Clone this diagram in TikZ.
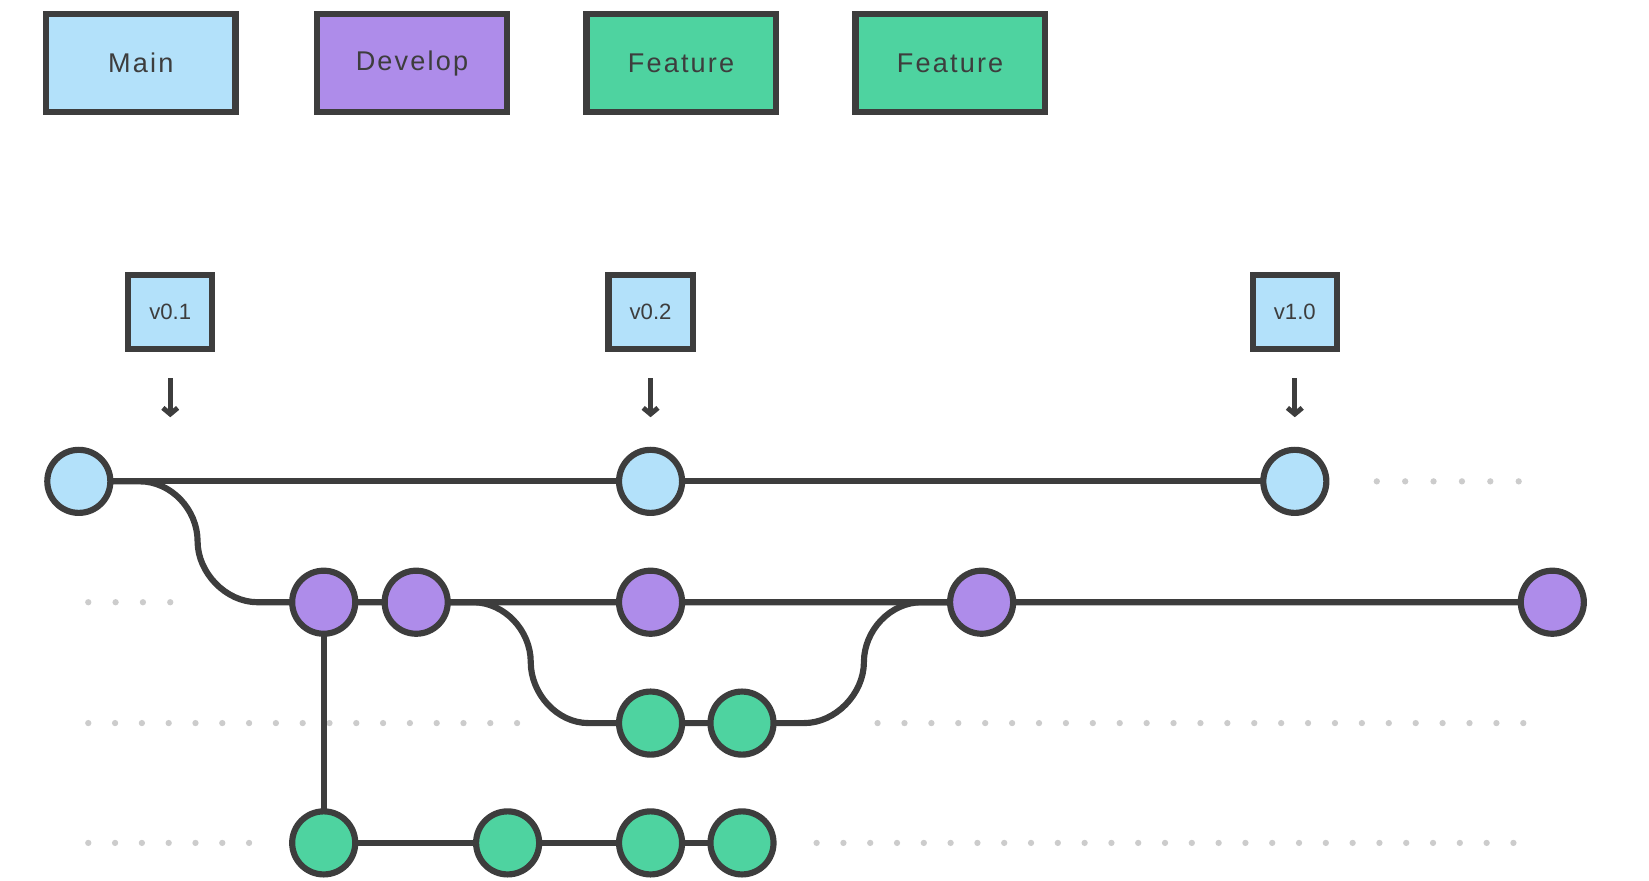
\documentclass[tikz,border=0pt]{standalone}
\usepackage{fontspec}
\setmainfont{Liberation Sans}
\usetikzlibrary{arrows.meta}
\definecolor{mainc}{HTML}{B3E1FA}
\definecolor{devc}{HTML}{AE8CEA}
\definecolor{featc}{HTML}{4ED3A0}
\definecolor{edge}{HTML}{3D3D3D}
\definecolor{dotc}{HTML}{CCCCCC}
\tikzset{
  box/.style={draw=edge, line width=5pt, minimum width=5.4cm, minimum height=2.8cm, text=edge, font=\fontsize{22}{26}\selectfont\addfontfeature{LetterSpace=8}},
  tag/.style={draw=edge, line width=5pt, minimum width=2.4cm, minimum height=2.1cm, fill=mainc, text=edge, font=\fontsize{18}{21}\selectfont},
  commit/.style={circle, draw=edge, line width=5pt, minimum size=1.8cm, inner sep=0pt},
  branch/.style={draw=edge, line width=5pt},
}
\begin{document}
\begin{tikzpicture}[x=0.03cm, y=-0.03cm]
    \useasboundingbox (0,0) rectangle (1569,838);
    % legend
    \node[box, fill=mainc] (lmain) at (134,60) {Main};
    \node[box, fill=devc] (ldev) at (392,60) {Develop};
    \node[box, fill=featc] (lfa) at (648,60) {Feature};
    \node[box, fill=featc] (lfb) at (904,60) {Feature};
    % dotted continuations
    \foreach \x in {1310,1337,...,1450} \fill[dotc] (\x,458) circle (3);
    \foreach \x in {84,110,...,165} \fill[dotc] (\x,573) circle (3);
    \foreach \x in {84,109.5,...,495} \fill[dotc] (\x,688) circle (3);
    \foreach \x in {835,860.6,...,1455} \fill[dotc] (\x,688) circle (3);
    \foreach \x in {84,109.5,...,240} \fill[dotc] (\x,802) circle (3);
    \foreach \x in {777,802.5,...,1455} \fill[dotc] (\x,802) circle (3);
    % branch lines
    \draw[branch] (75,458) -- (1232,458);
    \draw[branch] (75,458) -- (133,458) .. controls (163,458) and (188,485) .. (188,515)
        .. controls (188,545) and (215,573) .. (245,573) -- (1477,573);
    \draw[branch] (396,573) -- (450,573) .. controls (480,573) and (505,600) .. (505,630)
        .. controls (505,660) and (530,688) .. (560,688) -- (765,688)
        .. controls (795,688) and (822,660) .. (822,630)
        .. controls (822,600) and (847,573) .. (877,573) -- (934,573);
    \draw[branch] (308,573) -- (308,802) -- (706,802);
    % commits
    \foreach \x/\n in {75/m1,619/m2,1232/m3}
        \node[commit, fill=mainc] (\n) at (\x,458) {};
    \foreach \x/\n in {308/d1,396/d2,619/d3,934/d4,1477/d5}
        \node[commit, fill=devc] (\n) at (\x,573) {};
    \foreach \x/\n in {619/fa1,706/fa2}
        \node[commit, fill=featc] (\n) at (\x,688) {};
    \foreach \x/\n in {308/fb1,483/fb2,619/fb3,706/fb4}
        \node[commit, fill=featc] (\n) at (\x,802) {};
    % tags
    \foreach \x/\t/\n/\c in {162/v0.1/ta/m1,619/v0.2/tb/m2,1232/v1.0/tc/m3} {
        \node[tag] (\n) at (\x,297) {\t};
        \draw[edge, line width=4pt, -{Straight Barb[length=5pt,width=12pt]}] (\x,360) -- (\x,397);
    }
\end{tikzpicture}
\end{document}
